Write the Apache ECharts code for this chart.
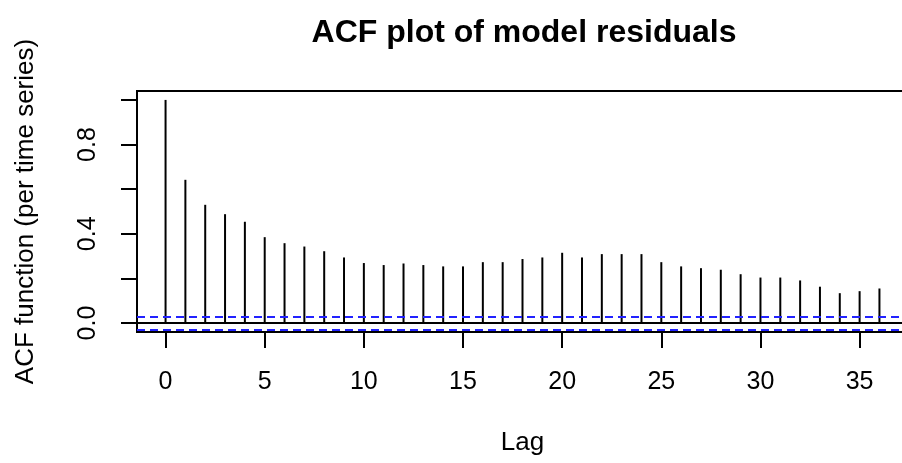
<!DOCTYPE html>
<html>
<head>
<meta charset="utf-8">
<title>ACF plot of model residuals</title>
<script src="https://cdn.jsdelivr.net/npm/echarts@6/dist/echarts.min.js"></script>
<style>
html,body{margin:0;padding:0;background:#fff;}
#main{width:902px;height:463px;}
</style>
</head>
<body>
<div id="main"></div>
<script>
// data
var lags = [0,1,2,3,4,5,6,7,8,9,10,11,12,13,14,15,16,17,18,19,20,21,22,23,24,25,26,27,28,29,30,31,32,33,34,35,36]
var acf_values = [1.0,0.642,0.530,0.488,0.454,0.385,0.358,0.343,0.322,0.294,0.269,0.260,0.267,0.260,0.254,0.254,0.273,0.273,0.287,0.294,0.315,0.294,0.309,0.309,0.309,0.273,0.254,0.246,0.239,0.219,0.204,0.204,0.191,0.163,0.134,0.143,0.155]
var ci_bound = 0.028
var x_ticks = [0,5,10,15,20,25,30,35]
var y_ticks = [0,0.2,0.4,0.6,0.8,1.0]
var y_labels = [0,0.4,0.8]

var font = 'Liberation Sans'

//acf spikes
function spike(params, api){
    var p0 = api.coord([api.value(0), 0])
    var p1 = api.coord([api.value(0), api.value(1)])
    return {
        type: 'line',
        shape: {x1: p0[0], y1: p0[1], x2: p1[0], y2: p1[1]},
        style: {stroke: '#000', lineWidth: 2}
    }
}

var spike_data = []
for (var i=0;i<lags.length;i++){
    spike_data.push([lags[i], acf_values[i]])
}

var chartDom = document.getElementById('main')
var myChart = echarts.init(chartDom)
var option = {
    animation: false,
    title: {
        text: 'ACF plot of model residuals',
        left: 519,
        textAlign: 'center',
        top: 12,
        textStyle: {fontFamily: font, fontWeight: 'bold', fontSize: 32, color: '#000'}
    },
    grid: {
        left: 137, top: 91, width: 771, height: 241,
        outerBoundsMode: 'none',
        containLabel: false,
        show: true, borderColor: '#000', borderWidth: 2
    },
    xAxis: {
        type: 'value',
        min: -1.44, max: 37.44,
        name: 'Lag',
        nameLocation: 'middle',
        nameGap: 98,
        nameTextStyle: {fontFamily: font, fontSize: 26, color: '#000'},
        axisLine: {show: false, onZero: false},
        splitLine: {show: false},
        axisTick: {show: true, length: 16, customValues: x_ticks, lineStyle: {color: '#000', width: 2}},
        axisLabel: {customValues: x_ticks, margin: 38, fontFamily: font, fontSize: 25, color: '#000'}
    },
    yAxis: {
        type: 'value',
        min: -0.04, max: 1.04,
        name: 'ACF function (per time series)',
        nameLocation: 'middle',
        nameGap: 98,
        nameTextStyle: {fontFamily: font, fontSize: 26, color: '#000'},
        axisLine: {show: false, onZero: false},
        splitLine: {show: false},
        axisTick: {show: true, length: 16, customValues: y_ticks, lineStyle: {color: '#000', width: 2}},
        axisLabel: {
            customValues: y_labels, rotate: 90, margin: 36,
            fontFamily: font, fontSize: 25, color: '#000',
            formatter: function(v){ return v.toFixed(1) }
        }
    },
    series: [
        {
            type: 'custom',
            renderItem: spike,
            data: spike_data,
            silent: true
        },
        {
            type: 'line',
            data: [],
            silent: true,
            markLine: {
                silent: true,
                symbol: ['none','none'],
                label: {show: false},
                data: [
                    {yAxis: 0, lineStyle: {color: '#000', type: 'solid', width: 2}},
                    {yAxis: ci_bound, lineStyle: {color: '#2222ff', type: [8,5], width: 2}},
                    {yAxis: -ci_bound, lineStyle: {color: '#2222ff', type: [8,5], width: 2}}
                ]
            }
        }
    ]
}
option && myChart.setOption(option)
</script>
</body>
</html>
